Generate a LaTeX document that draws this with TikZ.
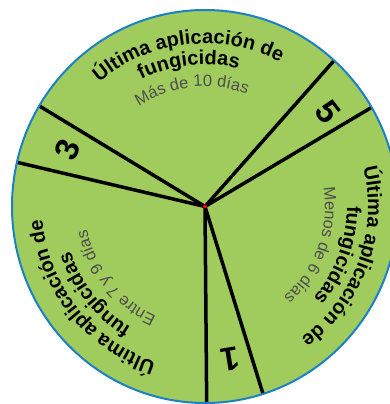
\documentclass[tikz,border=0pt]{standalone}
\usepackage{fontspec}
\setmainfont{Liberation Sans}
\usetikzlibrary{decorations.text}

\definecolor{leafgreen}{RGB}{160,204,94}
\definecolor{rimblue}{RGB}{28,128,196}
\newcommand{\bigfont}{\fontsize{20}{20}\selectfont\bfseries}
\newcommand{\smallfont}{\fontsize{16.5}{16.5}\selectfont\color{black!70}}
\newcommand{\numfont}{\fontsize{33}{33}\selectfont\bfseries}

\begin{document}
\begin{tikzpicture}[
    x=1pt, y=1pt,
    divider/.style={line width=3.5pt, draw=black},
    rim/.style={line width=2pt, draw=rimblue},
    number/.style={font=\numfont, inner sep=0pt},
    arctext/.style={decorate, decoration={text along path, text align=center, text={#1}}}
]
\useasboundingbox (-205,-197.5) rectangle (185,206.5);

% Disc
\coordinate (ctr) at (0,0);
\fill[leafgreen] (ctr) ellipse [x radius=193, y radius=196.5];

% Points on the rim
\coordinate (rimA) at (149.2:193 and 196.5);
\coordinate (rimB) at (167:193 and 196.5);
\coordinate (rimC) at (48:193 and 196.5);
\coordinate (rimD) at (30.3:193 and 196.5);
\coordinate (rimE) at (270.5:193 and 196.5);
\coordinate (rimF) at (287.5:193 and 196.5);

% Dividers
\draw[divider] (ctr) -- (rimA);
\draw[divider] (ctr) -- (rimB);
\draw[divider] (ctr) -- (rimC);
\draw[divider] (ctr) -- (rimD);
\draw[divider] (ctr) -- (rimE);
\draw[divider] (ctr) -- (rimF);
\draw[rim] (ctr) ellipse [x radius=193, y radius=196.5];
\fill[red] (ctr) circle (2);

% Top sector
\path[arctext={|\bigfont|Última aplicación de}] (145:163) arc[start angle=145, end angle=48, radius=163];
\path[arctext={|\bigfont|fungicidas}] (145:142) arc[start angle=145, end angle=48, radius=142];
\path[arctext={|\smallfont|Más de 10 días}] (145:120) arc[start angle=145, end angle=48, radius=120];

% Right sector
\path[arctext={|\bigfont|Última aplicación de}] (28:163) arc[start angle=28, end angle=-68, radius=163];
\path[arctext={|\bigfont|fungicidas}] (28:142) arc[start angle=28, end angle=-68, radius=142];
\path[arctext={|\smallfont|Menos de 6 días}] (28:120) arc[start angle=28, end angle=-68, radius=120];

% Lower left sector
\path[arctext={|\bigfont|Última aplicación de}] (266.5:163) arc[start angle=266.5, end angle=170.5, radius=163];
\path[arctext={|\bigfont|fungicidas}] (266.5:142) arc[start angle=266.5, end angle=170.5, radius=142];
\path[arctext={|\smallfont|Entre 7 y 9 días}] (266.5:120) arc[start angle=266.5, end angle=170.5, radius=120];

% Narrow sectors
\node[number, rotate=67.6] (three) at (157.6:149) {3};
\node[number, rotate=-52.5] (five) at (37.5:155) {5};
\node[number, rotate=-170.7] (one) at (-80.7:155) {1};

\end{tikzpicture}
\end{document}
